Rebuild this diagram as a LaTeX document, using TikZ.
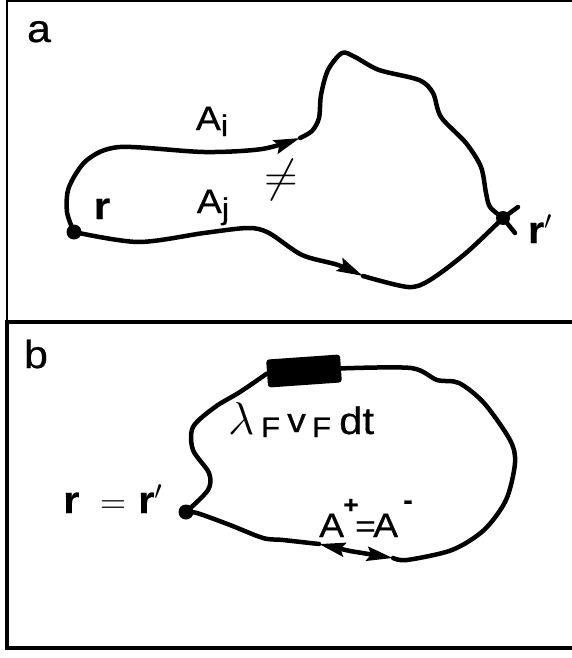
\documentclass[tikz,border=0pt]{standalone}
\usepackage{fix-cm}
\usepackage{fontspec}
\setmainfont{Liberation Sans}[FakeStretch=1.1, FakeBold=0.6]
\usepackage{amsmath}
\usetikzlibrary{arrows.meta}

\tikzset{
  wire/.style={line width=4.5pt, line cap=round, line join=round},
  pathtip/.style={-{Stealth[length=26pt,width=14pt,inset=4pt]}},
  dotnode/.style={circle, fill, inner sep=0pt, minimum size=15pt},
  txt/.style={inner sep=0pt, font=\fontsize{34}{38}\selectfont},
  bold/.style={inner sep=0pt, font=\fontsize{38}{42}\selectfont},
  panel/.style={inner sep=0pt, font=\fontsize{39}{42}\selectfont}
}
\newcommand{\fsz}[1]{\fontsize{#1}{#1}\selectfont}

\begin{document}
\begin{tikzpicture}[x=1pt, y=-1pt]
\useasboundingbox (0,0) rectangle (571,658);

% frames
\draw[line width=2.5pt] (580,1) -- (7,1) -- (7,322);
\draw[line width=4pt] (580,322) -- (7,322) -- (7,648) -- (580,648);

% panel a
\node[panel, anchor=base] (lbla) at (39,42) {a};
\node[dotnode] (r) at (74,232) {};
\node[dotnode, minimum size=14pt] (rp) at (503,218) {};
\coordinate (tipi) at (300,138);
\coordinate (tipj) at (363,276);
\coordinate (tk1) at (518,207);
\coordinate (tk2) at (515,233);

\draw[wire, pathtip] plot[smooth] coordinates {(r.center) (67,212) (69,187) (87,160) (120,147) (204,152) (262,149) (tipi)};
\draw[wire] plot[smooth] coordinates {(tipi) (312,131) (319,118) (321,95) (328,70) (342,53) (355,57) (379,70) (419,80) (433,93) (441,117) (466,143) (481,167) (486,193) (490,207) (rp.center)};
\draw[wire, pathtip] plot[smooth] coordinates {(r.center) (138,242) (204,233) (248,228) (269,233) (302,255) (338,265) (tipj)};
\draw[wire] plot[smooth] coordinates {(tipj) (408,287) (430,280) (466,253) (rp.center)};
\draw[wire] (rp.center) -- (tk1);
\draw[wire] (rp.center) -- (tk2);

\node[txt, anchor=base] (ai) at (212,130) {A\raisebox{-6pt}{\fsz{30}i}};
\node[txt, anchor=base] (aj) at (213,213) {A\raisebox{-6pt}{\fsz{30}j}};
\node[txt, font=\fsz{46}] (neq) at (281,180) {$\neq$};
\node[bold, anchor=base] (rlbl) at (102,219) {\textbf{r}};
\node[bold, anchor=base] (rplbl) at (540,243) {\textbf{r}$'$};

% panel b
\node[panel, anchor=base] (lblb) at (36,368) {b};
\node[dotnode] (rr) at (186,512) {};
\node[fill, rounded corners=3pt, minimum width=74pt, minimum height=28pt, inner sep=0pt, rotate=4] (box) at (304,371) {};
\coordinate (tipl) at (319,544);
\coordinate (mid) at (350,551);
\coordinate (tipr) at (393,558);

\draw[wire] plot[smooth] coordinates {(rr.center) (197,513) (230,525) (263,538) (283,540) (tipl)};
\draw[wire, pathtip] (mid) -- (tipl);
\draw[wire, pathtip] (mid) -- (tipr);
\draw[wire] plot[smooth] coordinates {(tipr) (407,560) (452,550) (484,530) (506,500) (515,463) (510,440) (484,403) (459,383) (437,380) (411,368) (box.east)};
\draw[wire] plot[smooth] coordinates {(box.west) (240,392) (215,407) (193,427) (193,450) (209,473) (208,490) (rr.center)};

\node[txt, anchor=base west] (flux) at (228,434) {\makebox[33pt][l]{\fsz{46}$\lambda$}\makebox[26pt][l]{\lower3pt\hbox{\fsz{28}F}}\makebox[25pt][l]{\raise2pt\hbox{\fsz{34}v}}\makebox[27pt][l]{\lower3pt\hbox{\fsz{28}F}}{\fsz{38}dt}};
\node[bold, anchor=base west] (eqlbl) at (63,513) {\makebox[37pt][l]{\textbf{r}}\makebox[38pt][l]{\fsz{36}$=$}\textbf{r}$'$};
\node[txt, anchor=base west] (alpm) at (319,537) {\makebox[24pt][l]{\fsz{34}A}\makebox[12pt][l]{\raisebox{24pt}{\fsz{24}\bfseries +}}\makebox[18pt][l]{\fsz{32}=}\makebox[30pt][l]{\fsz{34}A}\raisebox{28pt}{\fsz{26}\bfseries -}};
\end{tikzpicture}
\end{document}
